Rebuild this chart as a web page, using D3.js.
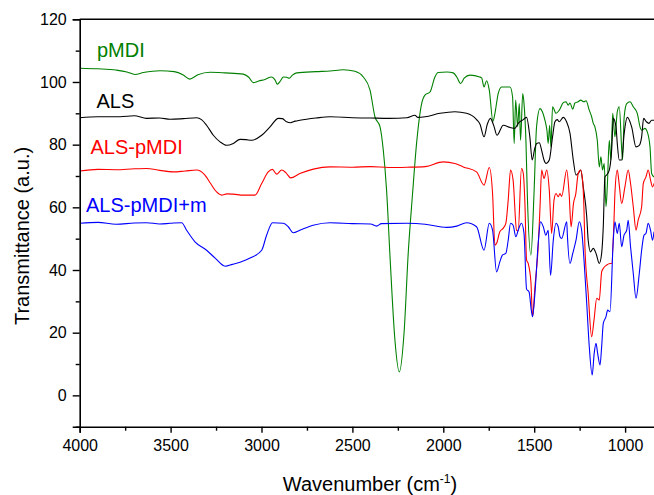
<!DOCTYPE html>
<html>
<head>
<meta charset="utf-8">
<title>FTIR spectra</title>
<style>
  body { margin: 0; background: #fff; }
  svg { display: block; font-family: "Liberation Sans", Arial, sans-serif; }
</style>
</head>
<body>
<svg width="654" height="495"></svg>
<script src="https://cdn.jsdelivr.net/npm/d3@7"></script>
<script>
// ---- data: [wavenumber (cm-1), transmittance (a.u.)] ----
const pmdi = [
  [4000,104.4],[3900,104.2],[3800,103.8],[3740,103.2],[3696,102.4],[3650,103.0],[3558,103.6],[3480,103.3],
  [3430,102.2],[3395,100.9],[3350,102.3],[3283,103.1],[3200,102.9],[3100,102.5],[3070,101.5],[3045,99.8],
  [3015,100.3],[2981,100.8],[2944,101.6],[2925,100.6],[2913,99.3],[2895,100.4],[2880,101.6],[2862,101.5],
  [2847,101.2],[2830,102.2],[2806,102.9],[2700,103.3],[2623,103.5],[2550,103.9],[2486,103.4],[2440,101.6],
  [2403,97.4],[2376,88.9],[2348,85.7],[2330,78.2],[2312,65.5],[2293,44.2],[2266,17.6],[2242,7.5],
  [2216,19.8],[2193,45.3],[2169,64.4],[2147,80.4],[2119,93.1],[2101,95.8],[2073,96.8],[2046,101.6],
  [2028,103.0],[1980,103.2],[1945,102.9],[1925,101.5],[1905,99.5],[1885,101.2],[1853,102.2],[1800,101.6],
  [1789,101.3],[1776,98.4],[1762,100.4],[1747,97.4],[1727,87.5],[1716,90.0],[1698,96.3],[1679,98.4],
  [1633,98.4],[1619,95.3],[1610,80.4],[1602,94.2],[1591,85.7],[1582,93.1],[1575,81.4],[1563,96.3],
  [1556,93.1],[1545,80.4],[1538,64.4],[1518,44.8],[1501,64.4],[1487,85.7],[1468,91.5],[1455,90.5],
  [1441,87.8],[1430,84.6],[1423,80.4],[1415,86.2],[1408,79.3],[1399,92.1],[1380,90.0],[1362,91.0],
  [1340,93.4],[1325,93.7],[1313,92.6],[1303,93.3],[1288,91.3],[1276,93.3],[1258,93.7],[1245,94.2],
  [1226,93.7],[1215,94.0],[1197,91.0],[1184,88.9],[1175,86.8],[1166,85.7],[1153,81.4],[1142,72.9],
  [1133,76.1],[1124,71.9],[1115,74.0],[1105,60.2],[1098,66.5],[1087,81.4],[1078,75.1],[1068,90.0],
  [1056,82.5],[1043,90.5],[1032,92.1],[1014,75.1],[1005,88.9],[991,93.1],[973,93.7],[955,92.1],
  [933,90.0],[918,85.7],[909,84.6],[891,85.2],[878,84.1],[863,79.3],[854,70.8],[841,69.7]
];

const als = [
  [4000,88.6],[3900,88.9],[3778,88.9],[3700,89.2],[3632,88.4],[3560,88.5],[3503,88.1],[3430,88.3],
  [3357,88.6],[3330,88.0],[3302,86.2],[3265,83.0],[3228,80.9],[3192,79.8],[3155,80.4],[3118,81.7],
  [3085,81.6],[3054,81.4],[2999,83.0],[2953,85.7],[2907,88.4],[2885,88.3],[2862,87.3],[2840,87.0],
  [2815,87.5],[2789,87.8],[2700,88.5],[2623,88.9],[2500,88.6],[2400,88.5],[2300,88.4],[2200,88.6],
  [2156,89.4],[2140,88.7],[2100,88.9],[2018,90.0],[1936,90.5],[1872,90.0],[1817,88.0],[1798,86.5],
  [1776,82.5],[1758,86.5],[1741,88.4],[1722,86.0],[1705,83.0],[1670,86.2],[1633,85.5],[1606,85.2],
  [1588,86.8],[1560,88.0],[1542,88.7],[1524,82.5],[1511,75.1],[1497,78.8],[1486,80.4],[1472,80.6],
  [1459,78.2],[1446,75.1],[1435,74.0],[1417,75.1],[1399,82.5],[1386,87.3],[1373,88.0],[1362,87.3],
  [1340,88.7],[1322,87.3],[1303,83.6],[1285,75.1],[1270,70.3],[1258,70.8],[1244,71.9],[1230,66.5],
  [1211,57.0],[1203,49.5],[1190,45.8],[1175,46.9],[1160,45.3],[1142,42.1],[1129,45.3],[1120,53.8],
  [1111,69.7],[1102,70.3],[1087,71.9],[1074,78.2],[1065,88.4],[1050,85.7],[1043,80.4],[1032,75.1],
  [1019,75.1],[1005,83.6],[988,88.7],[964,85.7],[940,79.3],[922,79.8],[909,82.5],[898,88.4],
  [883,87.3],[869,86.8],[854,87.8],[841,87.8]
];

const alsPmdi = [
  [4000,71.6],[3900,72.1],[3800,72.0],[3700,72.3],[3632,72.4],[3560,71.8],[3485,71.3],[3420,71.6],
  [3357,71.9],[3311,70.3],[3280,67.6],[3247,64.9],[3219,63.9],[3190,64.3],[3155,64.2],[3100,63.9],
  [3036,63.9],[2999,67.6],[2963,71.3],[2940,72.1],[2917,70.6],[2889,71.9],[2865,71.0],[2840,69.4],
  [2789,70.8],[2715,72.2],[2623,72.9],[2500,72.8],[2400,73.0],[2300,72.7],[2200,72.8],[2100,73.0],
  [2000,74.5],[1936,74.0],[1890,72.9],[1817,71.3],[1776,67.1],[1747,72.7],[1729,64.4],[1716,47.9],
  [1707,48.5],[1689,52.2],[1671,53.3],[1656,54.9],[1643,62.3],[1630,71.9],[1616,68.7],[1597,52.7],
  [1588,52.5],[1570,72.4],[1560,70.8],[1551,61.2],[1542,43.2],[1533,42.1],[1518,36.2],[1509,25.1],
  [1496,34.6],[1478,47.4],[1468,60.0],[1459,71.9],[1446,69.2],[1431,71.9],[1417,65.5],[1404,51.7],
  [1391,62.3],[1380,64.4],[1368,63.4],[1358,64.4],[1349,63.5],[1321,71.9],[1308,64.4],[1297,53.8],
  [1284,61.2],[1271,64.4],[1258,70.8],[1245,71.9],[1234,68.7],[1226,59.1],[1221,47.4],[1203,32.5],
  [1184,18.7],[1171,24.0],[1156,31.0],[1142,30.4],[1129,39.4],[1120,40.5],[1101,41.6],[1083,42.1],
  [1074,42.1],[1061,55.9],[1056,64.4],[1043,71.9],[1032,67.1],[1019,61.2],[1001,66.5],[983,71.9],
  [970,67.6],[955,60.2],[940,52.7],[928,55.9],[909,60.2],[900,67.6],[885,69.7],[873,71.9],
  [860,68.7],[849,66.5],[841,67.6]
];

const alsPmdiM = [
  [4000,54.9],[3900,55.2],[3800,54.6],[3700,55.0],[3632,55.1],[3560,54.7],[3503,54.9],[3439,55.1],
  [3412,52.7],[3366,49.0],[3302,46.3],[3255,43.8],[3200,41.2],[3160,41.8],[3118,42.5],[3063,43.8],
  [2999,46.3],[2972,51.1],[2939,55.1],[2880,54.9],[2853,53.8],[2825,51.9],[2789,52.7],[2716,54.3],
  [2623,55.1],[2500,54.8],[2400,54.7],[2367,54.0],[2340,54.8],[2200,54.9],[2100,54.6],[2018,53.8],
  [1981,53.6],[1926,54.0],[1872,55.1],[1817,53.8],[1776,46.3],[1747,54.9],[1729,52.7],[1707,39.4],
  [1689,42.6],[1674,44.8],[1656,45.3],[1643,49.5],[1630,54.9],[1616,54.3],[1601,50.6],[1588,52.7],
  [1570,54.9],[1556,51.7],[1542,33.9],[1528,33.0],[1516,27.2],[1509,25.1],[1496,32.5],[1478,48.5],
  [1465,55.4],[1450,53.8],[1436,51.1],[1423,52.7],[1410,38.3],[1395,49.5],[1380,54.9],[1368,53.8],
  [1358,50.6],[1349,50.1],[1321,55.4],[1318,51.7],[1303,42.1],[1288,45.3],[1270,49.5],[1252,55.4],
  [1239,52.7],[1226,43.2],[1211,29.3],[1197,15.5],[1181,6.5],[1170,13.4],[1160,16.6],[1151,13.4],
  [1138,9.7],[1129,15.5],[1120,23.0],[1105,25.1],[1096,27.2],[1083,26.7],[1065,49.5],[1056,55.4],
  [1043,51.7],[1032,54.9],[1019,47.4],[1006,51.1],[991,52.7],[983,55.9],[970,47.4],[955,38.9],
  [940,31.0],[922,38.9],[909,46.3],[896,51.1],[885,51.7],[873,54.9],[860,52.7],[849,49.5],[841,52.2]
];

const seriesNames  = ["pMDI", "ALS", "ALS-pMDI", "ALS-pMDI+m"];
const seriesData   = [pmdi, als, alsPmdi, alsPmdiM];
const seriesColors = ["#008000", "#000000", "#ff0000", "#0000ff"];

const xMajor = [4000, 3500, 3000, 2500, 2000, 1500, 1000];
const xMinor = [3750, 3250, 2750, 2250, 1750, 1250];
const yMajor = [0, 20, 40, 60, 80, 100, 120];
const yMinor = [-10, 10, 30, 50, 70, 90, 110];

// ---- layout ----
const plotLeft = 79.7, plotTop = 19.3, plotBottom = 426.7;
const x = d3.scaleLinear().domain([4000, 830]).range([plotLeft, 656]);
const y = d3.scaleLinear().domain([-10, 120]).range([plotBottom, plotTop]);

const svg = d3.select("svg");

svg.append("clipPath").attr("id", "plot")
  .append("rect").attr("x", plotLeft).attr("y", plotTop).attr("width", 660 - plotLeft).attr("height", plotBottom - plotTop);

const line = d3.line()
  .x(d => x(d[0]))
  .y(d => y(d[1]))
  .curve(d3.curveMonotoneX);

svg.append("g")
  .attr("clip-path", "url(#plot)")
  .selectAll("path")
  .data(seriesData)
  .join("path")
    .attr("fill", "none")
    .attr("stroke", (d, i) => seriesColors[i])
    .attr("stroke-width", 1.1)
    .attr("d", line);

// axes
svg.append("g")
  .attr("transform", `translate(0,${plotBottom})`)
  .call(d3.axisBottom(x).tickValues(xMajor).tickSize(6).tickPadding(7).tickFormat(d3.format("d")));
svg.append("g")
  .attr("transform", `translate(0,${plotBottom})`)
  .call(d3.axisBottom(x).tickValues(xMinor).tickSize(4).tickFormat(""))
  .select(".domain").remove();

svg.append("g")
  .attr("transform", `translate(${plotLeft},0)`)
  .call(d3.axisLeft(y).tickValues(yMajor).tickSize(7).tickPadding(6));
svg.append("g")
  .attr("transform", `translate(${plotLeft},0)`)
  .call(d3.axisLeft(y).tickValues(yMinor).tickSize(4).tickFormat(""))
  .select(".domain").remove();

svg.selectAll(".domain").attr("stroke-width", 1.6);
svg.selectAll(".tick line").attr("stroke-width", 1.4);
svg.selectAll(".tick text").attr("font-size", 16).attr("font-family", "Liberation Sans, Arial, sans-serif").attr("fill", "#000");

// top frame
svg.append("line")
  .attr("x1", plotLeft).attr("x2", 660)
  .attr("y1", plotTop).attr("y2", plotTop)
  .attr("stroke", "#000").attr("stroke-width", 1.6);

// axis titles
const xt = svg.append("text")
  .attr("x", 370).attr("y", 491)
  .attr("text-anchor", "middle")
  .attr("font-size", 20);
xt.append("tspan").text("Wavenumber (cm");
xt.append("tspan").attr("font-size", 12).attr("dy", -8).text("-1");
xt.append("tspan").attr("dy", 8).text(")");

svg.append("text")
  .attr("transform", "translate(28.5,236) rotate(-90)")
  .attr("text-anchor", "middle")
  .attr("font-size", 20)
  .text("Transmittance (a.u.)");

// series labels
const labelPos = [[97, 56.7], [96.5, 108.3], [90.5, 154.3], [86, 211.7]];
svg.append("g")
  .selectAll("text")
  .data(seriesNames)
  .join("text")
    .attr("x", (d, i) => labelPos[i][0])
    .attr("y", (d, i) => labelPos[i][1])
    .attr("font-size", 20)
    .attr("fill", (d, i) => seriesColors[i])
    .text(d => d);
</script>
</body>
</html>
